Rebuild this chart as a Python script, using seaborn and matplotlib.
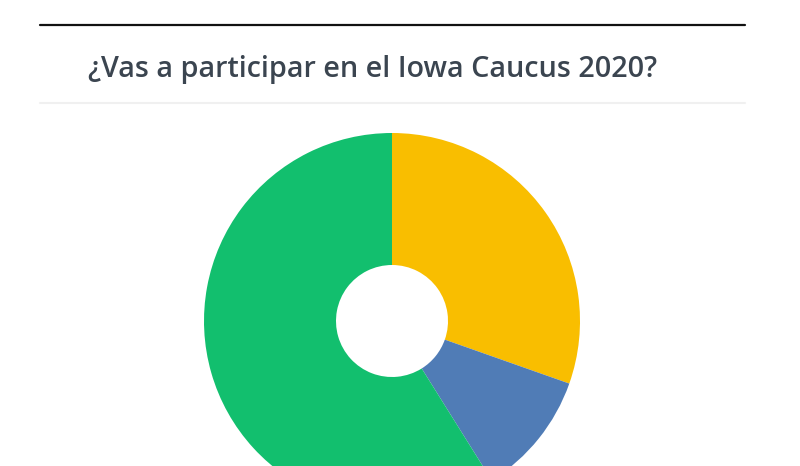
import matplotlib
matplotlib.use("Agg")
import matplotlib.pyplot as plt
import seaborn as sns
from matplotlib.lines import Line2D

title = "¿Vas a participar en el Iowa Caucus 2020?"
categories = ["Sí", "No estoy seguro", "No"]
values = [30.4, 10.7, 58.9]
colors = ["#F9BE00", "#507CB6", "#12BF6E"]

sns.set_theme(style="white")
plt.rcParams['font.family'] = ['Open Sans', 'DejaVu Sans']

fig = plt.figure(figsize=(8, 4.66), dpi=100)
fig.patch.set_facecolor("white")

W, H = 800, 466
cx, cy, R = 392, 321, 188
ax = fig.add_axes([(cx - R) / W, (H - cy - R) / H, 2 * R / W, 2 * R / H])
pal = sns.color_palette(colors)
ax.pie(values, colors=pal, startangle=90, counterclock=False, radius=1,
       wedgeprops=dict(width=1 - 56 / 188, linewidth=0))
ax.set_xlim(-1, 1)
ax.set_ylim(-1, 1)
ax.axis("off")

fig.add_artist(Line2D([40 / W, 745 / W], [1 - 25 / H, 1 - 25 / H],
                      color="#111111", linewidth=1.6, transform=fig.transFigure))
fig.add_artist(Line2D([40 / W, 745 / W], [1 - 103 / H, 1 - 103 / H],
                      color="#F0F0F0", linewidth=1.5, transform=fig.transFigure))
fig.text(88 / W, 1 - 77 / H, title, fontsize=20.7, fontweight="semibold",
         color="#3B4550", ha="left", va="baseline")

fig.savefig("out.png", dpi=100)
